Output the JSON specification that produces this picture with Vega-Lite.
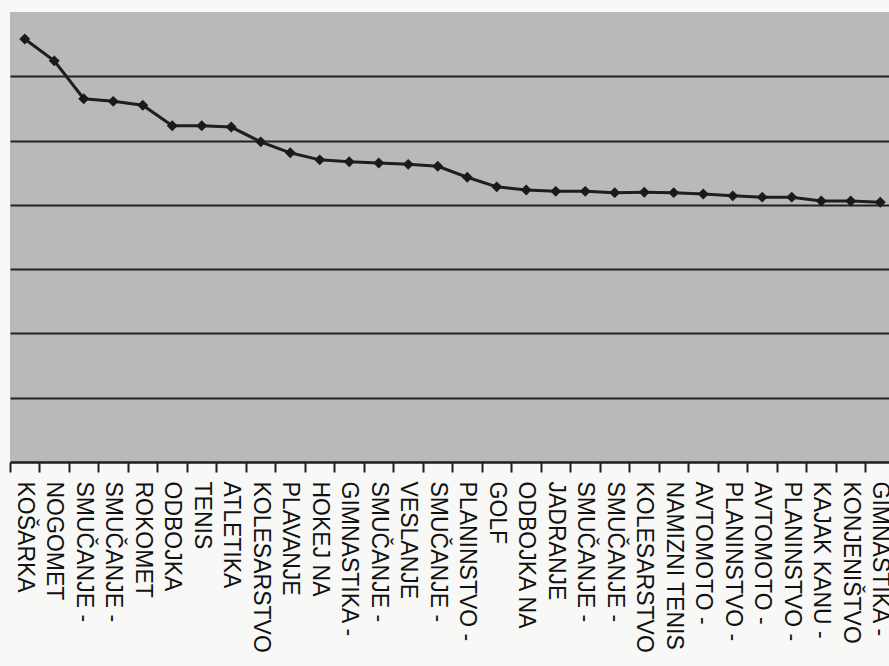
{
  "$schema": "https://vega.github.io/schema/vega-lite/v6.json",
  "width": 879,
  "height": 450,
  "autosize": {"type": "none"},
  "padding": {"left": 10, "top": 12, "right": 0, "bottom": 204},
  "background": "#f8f8f6",
  "config": {"view": {"fill": "#b9b9b9", "stroke": null}},
  "data": {
    "values": [
      {"i": 1, "sport": "KOŠARKA", "v": 65.8},
      {"i": 2, "sport": "NOGOMET", "v": 62.4},
      {"i": 3, "sport": "SMUČANJE - ", "v": 56.5},
      {"i": 4, "sport": "SMUČANJE -  ", "v": 56.1},
      {"i": 5, "sport": "ROKOMET", "v": 55.5},
      {"i": 6, "sport": "ODBOJKA", "v": 52.3},
      {"i": 7, "sport": "TENIS", "v": 52.3},
      {"i": 8, "sport": "ATLETIKA", "v": 52.1},
      {"i": 9, "sport": "KOLESARSTVO", "v": 49.8},
      {"i": 10, "sport": "PLAVANJE", "v": 48.1},
      {"i": 11, "sport": "HOKEJ NA", "v": 47.0},
      {"i": 12, "sport": "GIMNASTIKA - ", "v": 46.7},
      {"i": 13, "sport": "SMUČANJE -   ", "v": 46.5},
      {"i": 14, "sport": "VESLANJE", "v": 46.3},
      {"i": 15, "sport": "SMUČANJE -    ", "v": 46.0},
      {"i": 16, "sport": "PLANINSTVO - ", "v": 44.3},
      {"i": 17, "sport": "GOLF", "v": 42.8},
      {"i": 18, "sport": "ODBOJKA NA", "v": 42.3},
      {"i": 19, "sport": "JADRANJE", "v": 42.1},
      {"i": 20, "sport": "SMUČANJE -     ", "v": 42.1},
      {"i": 21, "sport": "SMUČANJE -      ", "v": 41.9},
      {"i": 22, "sport": "KOLESARSTVO ", "v": 41.95},
      {"i": 23, "sport": "NAMIZNI TENIS", "v": 41.9},
      {"i": 24, "sport": "AVTOMOTO - ", "v": 41.7},
      {"i": 25, "sport": "PLANINSTVO -  ", "v": 41.4},
      {"i": 26, "sport": "AVTOMOTO -  ", "v": 41.2},
      {"i": 27, "sport": "PLANINSTVO -   ", "v": 41.2},
      {"i": 28, "sport": "KAJAK KANU - ", "v": 40.6},
      {"i": 29, "sport": "KONJENIŠTVO", "v": 40.6},
      {"i": 30, "sport": "GIMNASTIKA -  ", "v": 40.4}
    ]
  },
  "encoding": {
    "x": {
      "field": "sport",
      "type": "nominal",
      "sort": {"field": "i"},
      "scale": {"type": "band", "paddingInner": 0, "paddingOuter": 0, "range": [0, 885]}
    },
    "y": {
      "field": "v",
      "type": "quantitative",
      "scale": {"domain": [0, 70], "nice": false, "zero": true},
      "axis": {
        "title": null,
        "labels": false,
        "ticks": false,
        "domain": false,
        "grid": true,
        "values": [10, 20, 30, 40, 50, 60],
        "gridColor": "#222222",
        "gridWidth": 2,
        "gridOpacity": 1
      }
    }
  },
  "layer": [
    {
      "mark": {"type": "line", "color": "#1e1e1e", "strokeWidth": 3},
      "encoding": {
        "x": {
          "field": "sport",
          "type": "nominal",
          "sort": {"field": "i"},
          "axis": {
            "orient": "bottom",
            "title": null,
            "labelAngle": 90,
            "labelFont": "Liberation Sans",
            "labelFontSize": 23,
            "labelColor": "#111111",
            "labelPadding": 19,
            "labelLimit": 400,
            "labelOverlap": false,
            "ticks": false,
            "domain": true,
            "domainColor": "#1e1e1e",
            "domainWidth": 2.5
          }
        }
      }
    },
    {
      "mark": {"type": "point", "shape": "diamond", "filled": true, "size": 120, "color": "#1a1a1a", "opacity": 1},
      "encoding": {
        "x": {
          "field": "sport",
          "type": "nominal",
          "sort": {"field": "i"},
          "axis": {
            "orient": "bottom",
            "title": null,
            "labels": false,
            "domain": false,
            "ticks": true,
            "bandPosition": 0,
            "tickSize": 10,
            "tickColor": "#1e1e1e",
            "tickWidth": 2
          }
        }
      }
    }
  ],
  "resolve": {"axis": {"x": "independent"}}
}
